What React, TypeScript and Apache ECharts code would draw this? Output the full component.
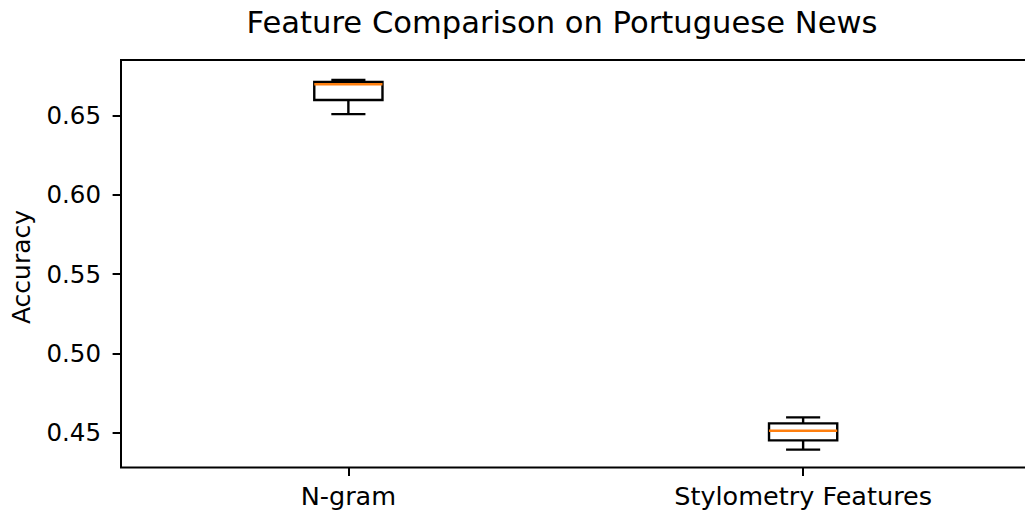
import React, { useEffect, useRef } from "react";
import * as echarts from "echarts";

const categories = ["N-gram", "Stylometry Features"];
const whiskerLow = [0.6509, 0.4394];
const quartile1 = [0.6598, 0.4452];
const medians = [0.6697, 0.4513];
const quartile3 = [0.6711, 0.4559];
const whiskerHigh = [0.6724, 0.4597];
const yTicks = [0.45, 0.5, 0.55, 0.6, 0.65];
const yMin = 0.4281;
const yMax = 0.685;

const FONT = "DejaVu Sans";

export default function App() {
  const ref = useRef<HTMLDivElement>(null);
  useEffect(() => {
    if (!ref.current) return;
    const chart = echarts.init(ref.current, null, { renderer: "svg" });
    const data = categories.map((c, i) => [
      i,
      whiskerLow[i],
      quartile1[i],
      medians[i],
      quartile3[i],
      whiskerHigh[i],
    ]);
    chart.setOption({
      animation: false,
      backgroundColor: "#ffffff",
      title: {
        text: "Feature Comparison on Portuguese News",
        left: 557,
        top: 2,
        textAlign: "center",
        textStyle: { fontFamily: FONT, fontSize: 30.6, fontWeight: "normal", color: "#000" },
      },
      grid: {
        left: 121,
        top: 60,
        right: 5.5,
        bottom: 50.5,
        show: true,
        borderColor: "#000",
        borderWidth: 2,
        backgroundColor: "transparent",
      },
      xAxis: {
        type: "category",
        data: categories,
        boundaryGap: true,
        axisLine: { show: false },
        axisTick: { show: true, alignWithLabel: true, length: 8.4, lineStyle: { color: "#000", width: 2 } },
        axisLabel: { fontFamily: FONT, fontSize: 25.5, color: "#000", margin: 15 },
        splitLine: { show: false },
      },
      yAxis: {
        type: "value",
        min: yMin,
        max: yMax,
        axisLine: { show: false },
        axisTick: {
          show: true,
          length: 8.4,
          lineStyle: { color: "#000", width: 2 },
          customValues: yTicks,
        },
        axisLabel: {
          fontFamily: FONT,
          fontSize: 24.5,
          color: "#000",
          margin: 20,
          customValues: yTicks,
          formatter: (v: number) => v.toFixed(2),
        },
        splitLine: { show: false },
      },
      graphic: [
        {
          type: "text",
          x: 21,
          y: 267,
          rotation: Math.PI / 2,
          style: {
            text: "Accuracy",
            fontFamily: FONT,
            fontSize: 25,
            fill: "#000",
            textAlign: "center",
            textVerticalAlign: "middle",
          },
        },
      ],
      series: [
        {
          type: "custom",
          data,
          renderItem: (params: any, api: any) => {
            const x = api.value(0);
            const lo = api.coord([x, api.value(1)]);
            const q1 = api.coord([x, api.value(2)]);
            const med = api.coord([x, api.value(3)]);
            const q3 = api.coord([x, api.value(4)]);
            const hi = api.coord([x, api.value(5)]);
            const band = api.size([1, 0])[0];
            const bw = band * 0.15;
            const cw = bw / 2;
            const cx = lo[0];
            const stroke = { stroke: "#000", lineWidth: 2.4, fill: "none" };
            return {
              type: "group",
              children: [
                {
                  type: "rect",
                  shape: { x: cx - bw / 2, y: q3[1], width: bw, height: q1[1] - q3[1] },
                  style: stroke,
                },
                {
                  type: "line",
                  shape: { x1: cx, y1: q1[1], x2: cx, y2: lo[1] },
                  style: stroke,
                },
                {
                  type: "line",
                  shape: { x1: cx, y1: q3[1], x2: cx, y2: hi[1] },
                  style: stroke,
                },
                {
                  type: "line",
                  shape: { x1: cx - cw / 2, y1: lo[1], x2: cx + cw / 2, y2: lo[1] },
                  style: stroke,
                },
                {
                  type: "line",
                  shape: { x1: cx - cw / 2, y1: hi[1], x2: cx + cw / 2, y2: hi[1] },
                  style: stroke,
                },
                {
                  type: "line",
                  shape: { x1: cx - bw / 2, y1: med[1], x2: cx + bw / 2, y2: med[1] },
                  style: { stroke: "#ff7f0e", lineWidth: 2.4 },
                },
              ],
            };
          },
        },
      ],
    });
    return () => chart.dispose();
  }, []);
  return (
    <div
      style={{
        position: "fixed",
        left: 0,
        top: 0,
        width: 1025,
        height: 518,
        overflow: "hidden",
        background: "#fff",
      }}
    >
      <div ref={ref} style={{ width: 1036, height: 518 }} />
    </div>
  );
}
